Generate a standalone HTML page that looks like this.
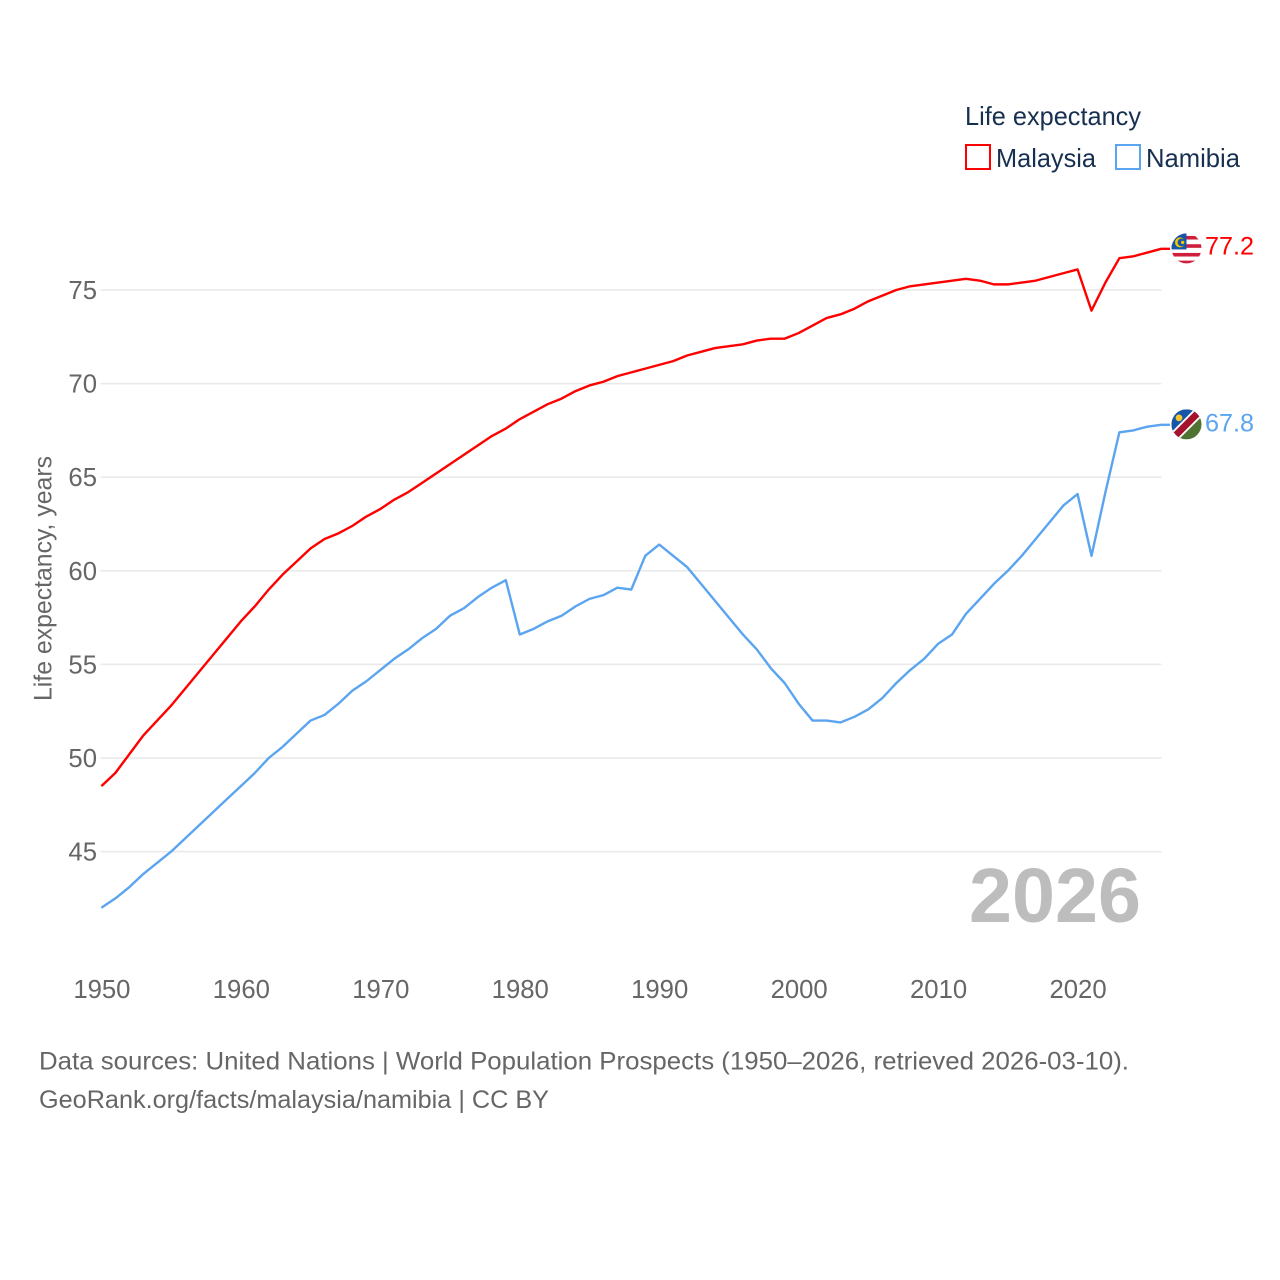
<!DOCTYPE html>
<html lang="en">
<head>
<meta charset="utf-8">
<title>Life expectancy: Malaysia and Namibia</title>
<style>
html,body{margin:0;padding:0;background:#fff;width:1280px;height:1280px;overflow:hidden}
svg{display:block}
text{font-family:"Liberation Sans",sans-serif}
.muted{fill:#666}
.navy{fill:#18304f}
</style>
</head>
<body>
<svg id="chart" xmlns="http://www.w3.org/2000/svg" width="1280" height="1280" viewBox="0 0 1280 1280">
  <defs>
    <clipPath id="clip-flag"><circle cx="0" cy="0" r="15"/></clipPath>
  </defs>
  <g id="grid"></g>
  <g id="yticks"></g>
  <g id="xticks"></g>
  <g id="series"></g>
  <g id="flags"></g>

  <text x="0" y="0" transform="translate(51.5 578.5) rotate(-90)" text-anchor="middle" font-size="25" class="muted" textLength="245" lengthAdjust="spacingAndGlyphs">Life expectancy, years</text>

  <text x="965" y="125" font-size="26" class="navy" textLength="176" lengthAdjust="spacingAndGlyphs">Life expectancy</text>
  <rect x="966" y="145" width="24" height="24" fill="#fff" stroke="#ff0000" stroke-width="2"/>
  <text x="996" y="167" font-size="26" class="navy" textLength="100" lengthAdjust="spacingAndGlyphs">Malaysia</text>
  <rect x="1116" y="145" width="24" height="24" fill="#fff" stroke="#5ba4f0" stroke-width="2"/>
  <text x="1146" y="167" font-size="26" class="navy" textLength="94" lengthAdjust="spacingAndGlyphs">Namibia</text>

  <text x="969" y="922" font-size="77" font-weight="bold" fill="#bdbdbd" textLength="172" lengthAdjust="spacingAndGlyphs">2026</text>

  <text x="39" y="1069.5" font-size="25" class="muted" textLength="1090" lengthAdjust="spacingAndGlyphs">Data sources: United Nations | World Population Prospects (1950–2026, retrieved 2026-03-10).</text>
  <text x="39" y="1108" font-size="25" class="muted" textLength="510" lengthAdjust="spacingAndGlyphs">GeoRank.org/facts/malaysia/namibia | CC BY</text>
</svg>
<script>
const startYear = 1950;
const yTickValues = [45, 50, 55, 60, 65, 70, 75];
const xTickValues = [1950, 1960, 1970, 1980, 1990, 2000, 2010, 2020];
const malaysiaValues = [
  48.5,49.2,50.2,51.2,52.0,52.8,53.7,54.6,55.5,56.4,
  57.3,58.1,59.0,59.8,60.5,61.2,61.7,62.0,62.4,62.9,
  63.3,63.8,64.2,64.7,65.2,65.7,66.2,66.7,67.2,67.6,
  68.1,68.5,68.9,69.2,69.6,69.9,70.1,70.4,70.6,70.8,
  71.0,71.2,71.5,71.7,71.9,72.0,72.1,72.3,72.4,72.4,
  72.7,73.1,73.5,73.7,74.0,74.4,74.7,75.0,75.2,75.3,
  75.4,75.5,75.6,75.5,75.3,75.3,75.4,75.5,75.7,75.9,
  76.1,73.9,75.4,76.7,76.8,77.0,77.2
];
const namibiaValues = [
  42.0,42.5,43.1,43.8,44.4,45.0,45.7,46.4,47.1,47.8,
  48.5,49.2,50.0,50.6,51.3,52.0,52.3,52.9,53.6,54.1,
  54.7,55.3,55.8,56.4,56.9,57.6,58.0,58.6,59.1,59.5,
  56.6,56.9,57.3,57.6,58.1,58.5,58.7,59.1,59.0,60.8,
  61.4,60.8,60.2,59.3,58.4,57.5,56.6,55.8,54.8,54.0,
  52.9,52.0,52.0,51.9,52.2,52.6,53.2,54.0,54.7,55.3,
  56.1,56.6,57.7,58.5,59.3,60.0,60.8,61.7,62.6,63.5,
  64.1,60.8,64.2,67.4,67.5,67.7,67.8
];

const NS = 'http://www.w3.org/2000/svg';
function xScale(year) { return 101.4 + (year - 1950) * 13.945; }
function yScale(v) { return 290 + (75 - v) * 18.72; }
function mk(tag, attrs, parent) {
  const el = document.createElementNS(NS, tag);
  for (const k in attrs) el.setAttribute(k, attrs[k]);
  parent.appendChild(el);
  return el;
}

const gridG = document.getElementById('grid');
const yG = document.getElementById('yticks');
const xG = document.getElementById('xticks');
const seriesG = document.getElementById('series');
const flagsG = document.getElementById('flags');

yTickValues.forEach(function (v) {
  const line = mk('line', {x1: 100.5, x2: 1161.5, y1: yScale(v), y2: yScale(v), stroke: '#e9e9e9', 'stroke-width': 1.5}, gridG);
  
  
  const t = mk('text', {x: 97, y: yScale(v) + 9, 'text-anchor': 'end', 'font-size': 25.7, 'class': 'muted'}, yG);
  
  
  t.textContent = v;
});

xTickValues.forEach(function (yr) {
  const t = mk('text', {x: xScale(yr) + 0.5, y: 998, 'text-anchor': 'middle', 'font-size': 25.7, 'class': 'muted'}, xG);
  
  
  t.textContent = yr;
});

function linePoints(values) {
  const pts = values.map(function (v, i) {
    return xScale(startYear + i).toFixed(2) + ',' + yScale(v).toFixed(2);
  });
  const last = values[values.length - 1];
  pts.push('1170,' + yScale(last).toFixed(2));
  return pts.join(' ');
}

const malaysiaLine = mk('polyline', {points: linePoints(malaysiaValues), fill: 'none', stroke: '#ff0000', 'stroke-width': 2.4, 'stroke-linejoin': 'round'}, seriesG);



const namibiaLine = mk('polyline', {points: linePoints(namibiaValues), fill: 'none', stroke: '#5ba4f0', 'stroke-width': 2.4, 'stroke-linejoin': 'round'}, seriesG);



function flagGroup(lastValue) {
  const g = mk('g', {transform: 'translate(1186.5,' + (yScale(lastValue) - 0.4).toFixed(2) + ')'}, flagsG);
  return mk('g', {'clip-path': 'url(#clip-flag)'}, g);
}

/* Malaysia flag */
const my = flagGroup(malaysiaValues[malaysiaValues.length - 1]);


mk('rect', {x: -15, y: -15, width: 30, height: 30, fill: '#ffffff'}, my);
[-12.5, -4.2, 4.5, 12.2].forEach(function (sy) {
  mk('rect', {x: -15, y: sy, width: 30, height: 3.6, fill: '#cf1f3d'}, my);
});
mk('rect', {x: -15, y: -15, width: 15, height: 16, fill: '#1656a8'}, my);
mk('circle', {cx: -6.5, cy: -6, r: 5, fill: '#f7c600'}, my);
mk('circle', {cx: -5, cy: -6, r: 3.9, fill: '#1656a8'}, my);
mk('circle', {cx: -3.8, cy: -6, r: 1.7, fill: '#f7c600'}, my);

/* Namibia flag */
const na = flagGroup(namibiaValues[namibiaValues.length - 1]);


mk('rect', {x: -15, y: -15, width: 30, height: 30, fill: '#4f7330'}, na);
mk('polygon', {points: '-15,-15 15,-15 -15,15', fill: '#1656a8'}, na);
mk('line', {x1: -16, y1: 16, x2: 16, y2: -16, stroke: '#ffffff', 'stroke-width': 10.5}, na);
mk('line', {x1: -16, y1: 16, x2: 16, y2: -16, stroke: '#a5122e', 'stroke-width': 6.8}, na);
mk('circle', {cx: -7.5, cy: -6.5, r: 3.4, fill: '#f7c82e'}, na);

const mv = mk('text', {x: 1205, y: yScale(malaysiaValues[malaysiaValues.length - 1]) + 5.5, 'font-size': 25.2, fill: '#ff0000'}, flagsG);


mv.textContent = malaysiaValues[malaysiaValues.length - 1].toFixed(1);

const nv = mk('text', {x: 1205, y: yScale(namibiaValues[namibiaValues.length - 1]) + 6.5, 'font-size': 25.2, fill: '#5ba4f0'}, flagsG);


nv.textContent = namibiaValues[namibiaValues.length - 1].toFixed(1);
</script>
</body>
</html>
